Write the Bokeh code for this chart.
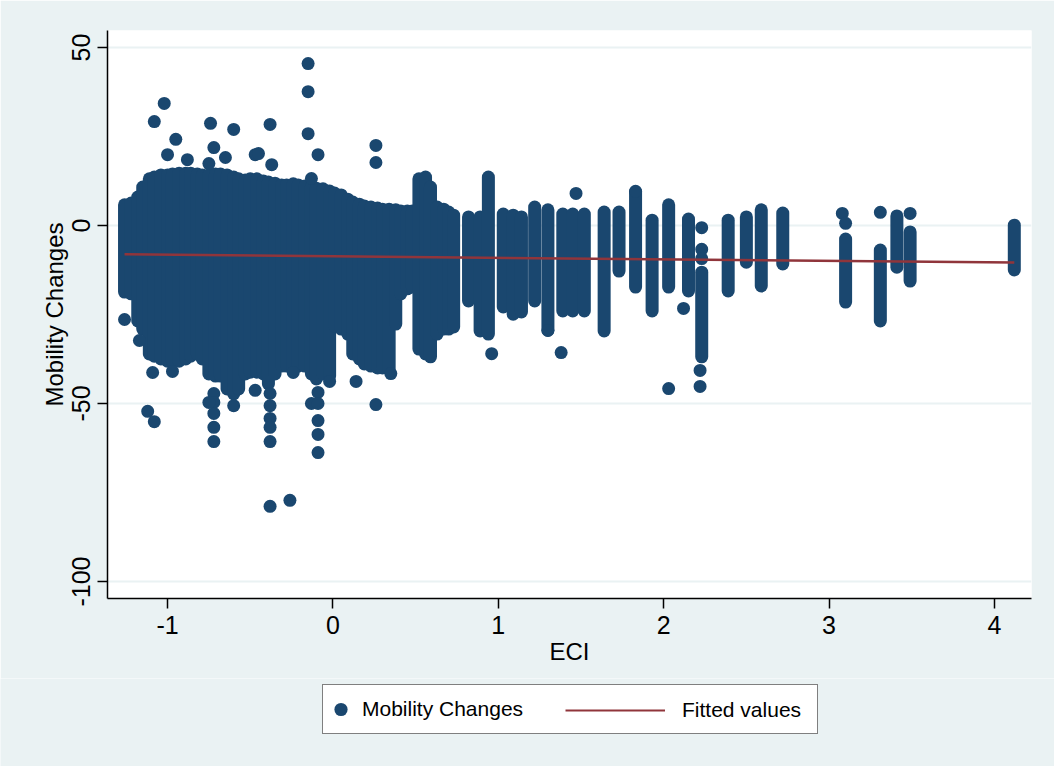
from bokeh.plotting import figure
from bokeh.layouts import column
from bokeh.models import Range1d, FixedTicker, Legend, LegendItem, ColumnDataSource
from bokeh.embed import file_html
from bokeh.resources import INLINE

# ---------------- data ----------------
# Dense vertical stacks of observations: ECI value, highest and lowest mobility change
strip_eci = [-1.26, -1.22, -1.18, -1.15, -1.11, -1.08, -1.04, -1.00, -0.97, -0.93,
             -0.89, -0.86, -0.82, -0.79, -0.75, -0.71, -0.68, -0.64, -0.60, -0.57,
             -0.53, -0.50, -0.46, -0.42, -0.39, -0.35, -0.31, -0.28, -0.24, -0.21,
             -0.17, -0.13, -0.10, -0.06, -0.02, 0.01, 0.05, 0.09, 0.12, 0.16,
             0.19, 0.23, 0.27, 0.30, 0.34, 0.38, 0.41, 0.45, 0.48, 0.52,
             0.56, 0.59, 0.63, 0.67, 0.70, 0.73,
             0.82, 0.89, 0.94, 1.03, 1.09, 1.14, 1.22, 1.30, 1.39, 1.45,
             1.52, 1.64, 1.73, 1.83, 1.93, 2.03, 2.15, 2.23, 2.39, 2.50,
             2.59, 2.72, 3.10, 3.31, 3.41, 3.49, 4.12]
strip_hi = [5.8, 6.3, 8.0, 10.8, 13.1, 13.6, 14.2, 14.2, 14.5, 14.7,
            14.7, 14.7, 14.5, 14.2, 14.2, 14.5, 14.5, 14.2, 13.6, 13.1,
            12.8, 13.1, 13.1, 12.5, 12.2, 11.9, 11.4, 11.4, 11.7, 11.4,
            11.1, 10.8, 10.5, 10.3, 9.7, 9.1, 8.6, 7.4, 6.6, 6.0,
            5.5, 5.2, 4.9, 4.6, 4.6, 4.4, 4.1, 4.1, 4.1, 13.1,
            13.6, 10.8, 5.2, 4.6, 3.8, 2.9,
            2.4, 2.4, 13.6, 3.2, 2.9, 2.4, 5.2, 4.4, 3.2, 3.2,
            3.2, 3.8, 3.8, 9.4, 1.5, 5.8, 1.8, -13.1, 1.5, 2.4,
            4.4, 3.5, -3.8, -6.9, 2.7, -1.8, 0.1]
strip_lo = [-18.7, -19.2, -26.8, -29.1, -36.1, -36.7, -37.5, -38.1, -38.1, -38.1,
            -37.5, -36.7, -36.1, -37.5, -41.7, -42.3, -42.3, -45.9, -47.3, -45.9,
            -41.7, -41.2, -41.2, -41.7, -44.5, -41.7, -39.5, -39.5, -40.3, -39.5,
            -39.5, -41.7, -43.1, -41.7, -42.3, -28.2, -29.1, -30.5, -36.1, -37.5,
            -38.9, -39.5, -40.0, -40.0, -40.3, -27.7, -19.2, -17.8, -17.3, -34.7,
            -36.1, -36.9, -30.5, -29.1, -29.1, -28.5,
            -21.2, -29.6, -30.5, -22.9, -24.9, -24.3, -21.2, -29.4, -24.0, -24.0,
            -24.0, -29.6, -12.8, -17.3, -24.0, -17.3, -18.4, -36.9, -18.4, -10.3,
            -17.0, -10.8, -21.5, -26.8, -11.7, -15.6, -12.5]

# Individual (separately visible) observations
point_eci = [-1.26, -1.17, -1.09, -1.12, -1.08, -0.97, -0.72, -0.72, -0.72, -0.72,
             -0.72, -0.75, -0.60, -0.47, -0.38, -0.38, -0.38, -0.38, -0.38, -0.38,
             -0.26, -0.24, -0.13, -0.09, -0.09, -0.09, -0.09, -0.09, -0.02, 0.14,
             0.26, 0.35, 0.96, 1.30, 1.38, 1.47, 1.83, 2.12, 2.03, 2.23,
             2.23, 2.23, 2.22, 2.22, 3.08, 3.10, 3.31, 3.49,
             -1.02, -1.08, -0.74, -0.60, -0.38, -0.15, -0.15, -0.15, -0.95, -0.72,
             -0.09, -0.47, -0.65, -0.37, 0.26, 0.26, -1.00, -0.88, -0.75, -0.13,
             -0.45]
point_mob = [-26.4, -32.3, -41.3, -52.2, -55.1, -41.0, -47.2, -49.7, -52.8, -56.7,
             -60.7, -49.7, -50.6, -46.3, -47.2, -50.6, -54.2, -56.7, -60.7, -78.9,
             -77.2, -41.3, -50.0, -46.9, -50.0, -54.8, -58.7, -63.8, -43.8, -43.8,
             -50.3, -41.6, -36.0, -29.5, -35.7, 9.0, 9.6, -23.3, -45.8, -0.6,
             -6.7, -9.3, -40.7, -45.2, 3.4, 0.6, 3.7, 3.4,
             34.3, 29.2, 28.7, 27.0, 28.4, 25.8, 45.5, 37.6, 24.2, 21.9,
             19.9, 19.9, 19.1, 17.1, 22.5, 17.7, 19.9, 18.5, 17.4, 13.2,
             20.2]

# Fitted values (linear fit)
fit_eci = [-1.26, 0.0, 4.12]
fit_val = [-8.1, -8.65, -10.4]

x_ticks = [-1, 0, 1, 2, 3, 4]
y_ticks = [-100, -50, 0, 50]
legend_labels = ["Mobility Changes", "Fitted values"]

# ---------------- styling ----------------
FONT = "Liberation Sans"
NAVY = "#1A476F"
MAROON = "#90353B"
BG = "#EAF2F3"
W = 1054

p = figure(width=W, height=678, output_backend="svg", toolbar_location=None,
           x_range=Range1d(-1.363, 4.224), y_range=Range1d(-104.78, 54.78),
           min_border_left=107, min_border_right=23, min_border_top=30,
           min_border_bottom=80)
p.frame_align = False
p.background_fill_color = "white"
p.border_fill_color = BG
p.outline_line_color = None

strips = ColumnDataSource(dict(x=strip_eci, hi=strip_hi, lo=strip_lo))
p.segment(x0="x", y0="lo", x1="x", y1="hi", source=strips,
          line_width=13, line_color=NAVY, line_cap="round")
p.scatter(point_eci, point_mob, size=13, fill_color=NAVY, line_color=None)
p.line(fit_eci, fit_val, line_color=MAROON, line_width=2.5)

for ax in (p.xaxis[0], p.yaxis[0]):
    ax.axis_line_color = "black"
    ax.axis_line_width = 1.5
    ax.major_tick_line_color = "black"
    ax.major_tick_line_width = 1.5
    ax.major_tick_out = 10
    ax.major_tick_in = 0
    ax.minor_tick_line_color = None
    ax.major_label_text_font = FONT
    ax.major_label_text_font_size = "25px"
    ax.major_label_text_color = "black"
    ax.axis_label_text_font = FONT
    ax.axis_label_text_font_size = "24px"
    ax.axis_label_text_font_style = "normal"
    ax.axis_label_text_color = "black"
    ax.major_label_standoff = 7

p.xaxis.ticker = FixedTicker(ticks=x_ticks)
p.yaxis.ticker = FixedTicker(ticks=y_ticks)
p.xaxis.major_label_overrides = {t: str(t) for t in x_ticks}
p.yaxis.major_label_overrides = {t: str(t) for t in y_ticks}
p.yaxis.major_label_orientation = "vertical"
p.xaxis.axis_label = "ECI"
p.xaxis.axis_label_standoff = 1
p.yaxis.axis_label = "Mobility Changes"
p.yaxis.axis_label_standoff = 2

p.xgrid.grid_line_color = None
p.ygrid.grid_line_color = BG
p.ygrid.grid_line_width = 2

# ---------------- legend strip below the graph ----------------
lg = figure(width=W, height=88, output_backend="svg", toolbar_location=None,
            x_axis_type=None, y_axis_type=None,
            x_range=Range1d(0, 1), y_range=Range1d(0, 1), min_border=0)
lg.frame_align = False
lg.background_fill_color = BG
lg.border_fill_color = BG
lg.outline_line_color = None
nan = float("nan")
k_pts = lg.scatter([nan], [nan], size=13, fill_color=NAVY, line_color=None)
k_fit = lg.line([nan, nan], [nan, nan], line_color=MAROON, line_width=2)

legA = Legend(items=[LegendItem(label=legend_labels[0], renderers=[k_pts])],
              location=(322, 32), orientation="horizontal", margin=0, padding=1,
              spacing=0, glyph_width=33, glyph_height=46, label_standoff=5,
              label_width=454, label_height=46,
              border_line_color="black", border_line_width=1,
              background_fill_color="white", background_fill_alpha=1,
              label_text_font=FONT, label_text_font_size="21px",
              label_text_color="black")
legB = Legend(items=[LegendItem(label=legend_labels[1], renderers=[k_fit])],
              location=(564, 32), orientation="horizontal", margin=0, padding=1,
              spacing=0, glyph_width=100, glyph_height=46, label_standoff=17,
              label_height=46, border_line_alpha=0, background_fill_alpha=0,
              label_text_font=FONT, label_text_font_size="21px",
              label_text_color="black")
lg.add_layout(legA, "center")
lg.add_layout(legB, "center")

layout = column(p, lg, spacing=0)
open("out.html", "w").write(file_html(layout, INLINE))
